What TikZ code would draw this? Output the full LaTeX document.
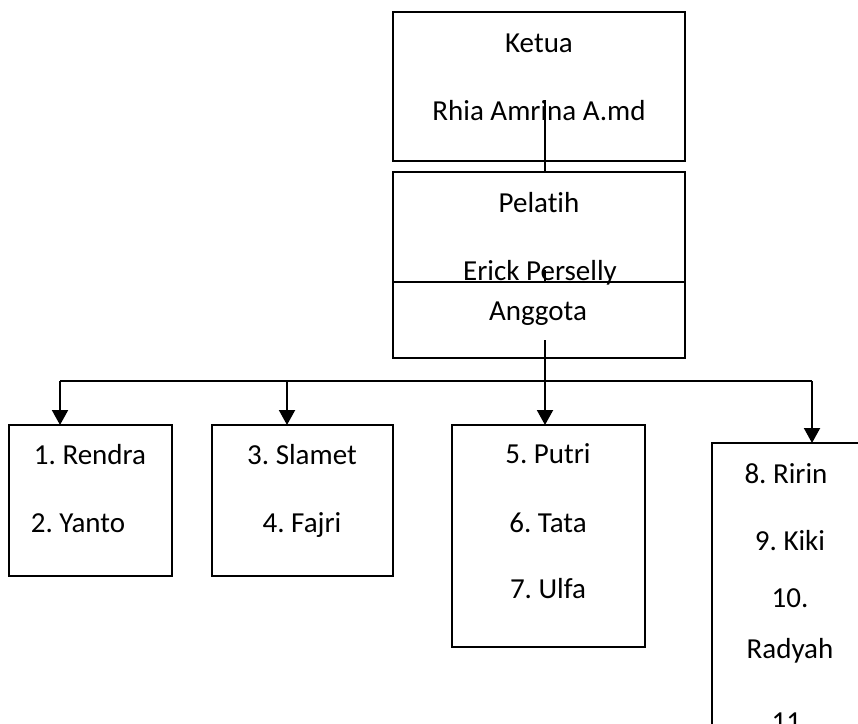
\documentclass[tikz,border=0pt]{standalone}
\usepackage{fontspec}
\setmainfont{Carlito}[Ligatures=NoCommon]
\usetikzlibrary{arrows.meta}
\frenchspacing
\begin{document}
\begin{tikzpicture}[x=1pt,y=1pt,
  box/.style={draw=black, line width=1.8pt, fill=white, inner sep=0pt, outer sep=0pt},
  lbl/.style={anchor=base, inner sep=0pt, font=\fontsize{29}{34}\selectfont},
  conn/.style={line width=2pt, draw=black},
  arr/.style={conn, -{Triangle[width=16pt,length=15pt]}}]
\useasboundingbox (0,0) rectangle (858,-723);
\clip (0,0) rectangle (858,-723);
% top boxes
\node[box, minimum width=292, minimum height=149] (ketua) at (539,-86.5) {};
\node[box, minimum width=292, minimum height=186] (pelatih) at (539,-265) {};
\node[box, minimum width=292, minimum height=76] (anggota) at (539,-320) {};
% member boxes
\node[box, minimum width=163, minimum height=151] (g1) at (90.5,-500.5) {};
\node[box, minimum width=181, minimum height=151] (g2) at (302.5,-500.5) {};
\node[box, minimum width=193, minimum height=222] (g3) at (548.5,-536) {};
\node[box, minimum width=170, minimum height=320] (g4) at (797,-603) {};
% texts
\node[lbl] (t1) at (539,-52) {Ketua};
\node[lbl] (t2) at (539,-120) {Rhia Amrina A.md};
\node[lbl] (t3) at (539,-212) {Pelatih};
\node[lbl] (t4) at (540,-280) {Erick Perselly};
\node[lbl] (t5) at (538,-320) {Anggota};
\node[lbl] (m1) at (90,-464) {1. Rendra};
\node[lbl] (m2) at (78,-532) {2. Yanto};
\node[lbl] (m3) at (302,-464) {3. Slamet};
\node[lbl] (m4) at (302,-532) {4. Fajri};
\node[lbl] (m5) at (548,-463) {5. Putri};
\node[lbl] (m6) at (548,-532) {6. Tata};
\node[lbl] (m7) at (548,-598) {7. Ulfa};
\node[lbl] (m8) at (786,-483) {8. Ririn};
\node[lbl] (m9) at (790,-550) {9. Kiki};
\node[lbl] (m10) at (790,-607) {10.};
\node[lbl] (m11) at (790,-658) {Radyah};
\node[lbl] (m12) at (790,-731) {11.};
% connectors
\coordinate (c0) at (545,-100);
\coordinate (c1) at (545,-270);
\coordinate (c2) at (545,-340);
\coordinate (h0) at (545,-381);
\coordinate (hL) at (60,-381);
\coordinate (h2) at (287,-381);
\coordinate (hR) at (812,-381);
\draw[conn] (c0) -- (c0 |- pelatih.north);
\draw[conn] (c1) -- (c1 |- anggota.north);
\draw[conn] (c2) -- (h0);
\draw[conn] (hL) -- (hR);
\draw[arr] (hL) -- (hL |- g1.north);
\draw[arr] (h2) -- (h2 |- g2.north);
\draw[arr] (h0) -- (h0 |- g3.north);
\draw[arr] (hR) -- (hR |- g4.north);
\end{tikzpicture}
\end{document}
